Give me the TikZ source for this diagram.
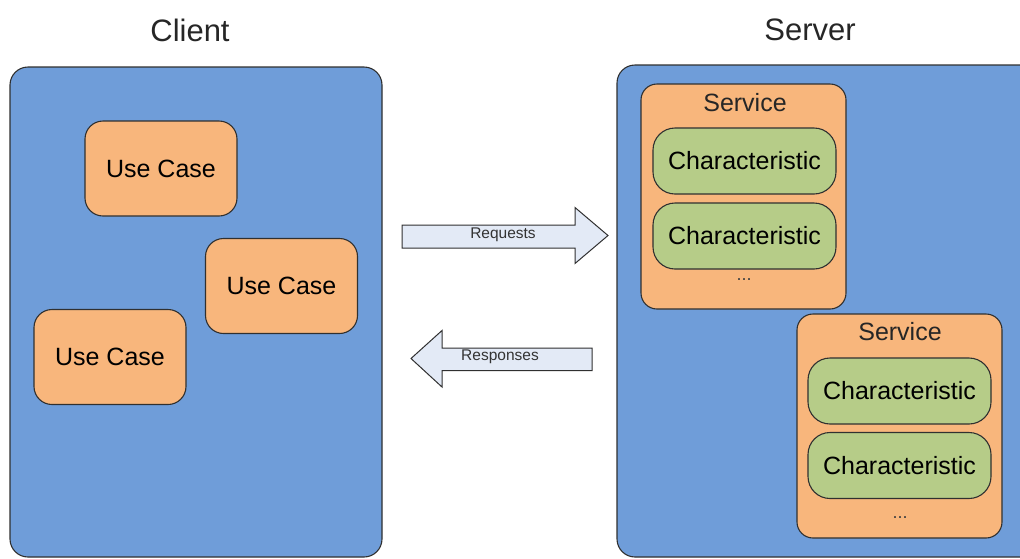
\documentclass[tikz,border=0pt]{standalone}
\usepackage{fontspec}
\setmainfont{Liberation Sans}
\definecolor{panelblue}{HTML}{6F9DD9}
\definecolor{caseorange}{HTML}{F8B67C}
\definecolor{charsgreen}{HTML}{B6CC88}
\definecolor{arrowfill}{HTML}{E3EAF6}
\definecolor{edgegray}{HTML}{303030}
\begin{document}
\begin{tikzpicture}[x=1pt,y=-1pt,
  box/.style={rectangle, draw=edgegray, line width=1.1pt, inner sep=0pt},
  panel/.style={box, fill=panelblue, rounded corners=18pt},
  usecase/.style={box, fill=caseorange, rounded corners=18pt,
    minimum width=152pt, minimum height=95pt, font=\fontsize{25}{30}\selectfont},
  service/.style={box, fill=caseorange, rounded corners=16pt,
    minimum width=205pt, minimum height=225pt},
  charbox/.style={box, fill=charsgreen, rounded corners=22pt,
    minimum width=183pt, minimum height=66pt, font=\fontsize{25}{30}\selectfont},
  label/.style={inner sep=0pt, text=black!85, font=\fontsize{25}{30}\selectfont},
  dots/.style={inner sep=0pt, text=black!75, font=\fontsize{18}{20}\selectfont},
  title/.style={inner sep=0pt, text=black!85, font=\fontsize{31}{36}\selectfont},
  blockarrow/.style={draw=edgegray, line width=1pt, fill=arrowfill, line join=miter},
  arrowtext/.style={inner sep=0pt, text=black!80, font=\fontsize{15.5}{18}\selectfont}
]
\useasboundingbox (0,0) rectangle (1020,558);
\clip (0,0) rectangle (1020,558);

% titles
\node[title] (clientTitle) at (190,30) {Client};
\node[title] (serverTitle) at (810,30) {Server};

% client side
\node[panel, minimum width=372pt, minimum height=490pt] (client) at (196,312) {};
\node[usecase] (uc1) at (161,168.5) {Use Case};
\node[usecase] (uc2) at (281.5,286) {Use Case};
\node[usecase] (uc3) at (110,357) {Use Case};

% server side
\node[panel, minimum width=423pt, minimum height=492pt] (server) at (828.5,311) {};

\node[service] (svc1) at (743.5,196.5) {};
\node[label] (svc1label) at (745,103) {Service};
\node[charbox] (ch1) at (744.5,161) {Characteristic};
\node[charbox] (ch2) at (744.5,236) {Characteristic};
\node[dots] (svc1dots) at (744,280) {...};

\node[service, minimum height=224pt] (svc2) at (899.5,426) {};
\node[label] (svc2label) at (900,332) {Service};
\node[charbox] (ch3) at (899.5,391) {Characteristic};
\node[charbox] (ch4) at (899.5,465.5) {Characteristic};
\node[dots] (svc2dots) at (900,518) {...};

% request / response block arrows
\coordinate (reqTail) at (402,236.5);
\coordinate (reqTip) at (608,235.5);
\draw[blockarrow] (402,225) -- (575,225) -- (575,207.5) -- (reqTip)
  -- (575,263.5) -- (575,248) -- (402,248) -- cycle;
\node[arrowtext] (reqText) at (503,235) {Requests};

\coordinate (resTail) at (592,359);
\coordinate (resTip) at (411,358.5);
\draw[blockarrow] (592,348) -- (442,348) -- (442,330.5) -- (resTip)
  -- (442,387) -- (442,370.5) -- (592,370.5) -- cycle;
\node[arrowtext] (resText) at (500,357) {Responses};
\end{tikzpicture}
\end{document}
